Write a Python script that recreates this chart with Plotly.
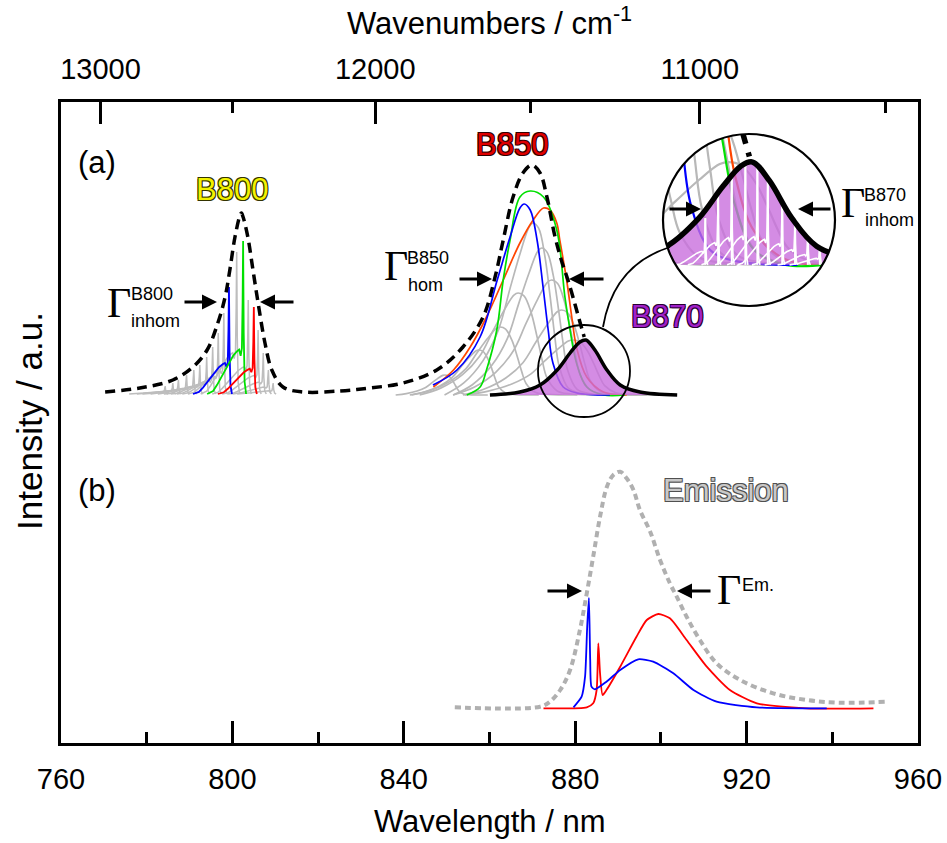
import math
import plotly.graph_objects as go

# ---------------- data (wavelength in nm, intensity in a.u.) ----------------
x_ticks_nm = [760, 800, 840, 880, 920, 960]
wavenumber_major = [13000, 12000, 11000]
wavenumber_minor = [12500, 11500, 10500]

# (a) absorption: dashed envelope B800 + B850
env_a_nm = [770.3, 778.4, 786.1, 790.8, 794.1, 796.6, 798.3, 799.4, 800.6, 801.8, 802.1, 802.5,
            803.6, 804.8, 806.0, 807.6, 809.2, 811.8, 816.5, 825.1, 832.1, 839.8, 847.7, 853.8,
            858.5, 861.3, 863.2, 865.5, 867.8, 869.9, 871.8, 873.4, 875.3, 876.9, 878.3, 880.0,
            881.1, 882.1]
env_a_int = [351, 355, 363, 376, 393, 420, 446, 473, 506, 528, 530, 526,
             506, 473, 440, 400, 373, 356, 351, 352, 355, 360, 373, 396,
             426, 466, 503, 546, 570, 578, 570, 546, 506, 481, 463, 438,
             421, 406]

b800_base = 349
b800_profile_dnm = [-8.4, -7.0, -6.07, -5.13, -4.2, -3.27, -2.33, -1.4, -0.93, -0.58, -0.28, -0.12,
                    0, 0.14, 0.35, 0.7]
b800_profile_rel = [0, 0.02, 0.06, 0.11, 0.16, 0.21, 0.25, 0.28, 0.29, 0.25, 0.3, 0.6,
                    1, 0.4, 0.08, 0]
b800_grey_nm = [784.3, 786.1, 787.4, 789.3, 791.0, 792.4, 794.0, 795.4, 796.7, 798.0, 801.0,
                803.7, 806.0, 807.2, 808.4, 809.5]
b800_grey_h = [8, 11, 14, 19, 24, 29, 37, 47, 61, 81, 142, 94, 64, 41, 24, 11]
b800_col_nm = [799.2, 802.5, 805.0]
b800_col_h = [107, 153, 87]
b800_col_color = ["#0000FF", "#00E000", "#FF0000"]

# B850 sub-bands
b850_base = 348
b850_blue_nm = [846.8, 852.4, 857.8, 861.8, 864.8, 867.1, 868.1, 869.5, 871.1, 872.5, 873.7,
                874.8, 877.2, 880.4, 888.1]
b850_blue_int = [358, 373, 406, 463, 506, 535, 539, 533, 503, 456, 413, 380, 356, 350, 348]
b850_green_nm = [854.7, 857.8, 859.3, 861.7, 863.2, 864.8, 867.1, 869.5, 872.6, 875.7, 877.6,
                 878.8, 880.3, 882.7, 886.6, 891.6]
b850_green_int = [348, 356, 373, 413, 463, 503, 546, 552, 546, 513, 446, 413, 380, 356, 348, 348]
b850_orange_nm = [846.9, 851.6, 855.5, 859.3, 863.2, 867.1, 870.2, 872.6, 874.1, 875.7, 876.4,
                  878.0, 879.2, 880.3, 882.7, 886.6, 892.0]
b850_orange_int = [356, 373, 396, 426, 463, 500, 523, 535, 533, 520, 503, 463, 426, 396, 366,
                   351, 348]
b850_profile_dnm = [-23, -18, -13, -9, -6, -3.3, -1.0, 0, 1.4, 3.0, 4.4, 5.6, 6.7, 9.1, 12.3, 20]
b850_profile_rel = [0, 0.07, 0.2, 0.38, 0.62, 0.83, 0.98, 1, 0.97, 0.81, 0.57, 0.34, 0.17, 0.04,
                    0.01, 0]
b850_grey_nm = [849.6, 857.5, 862.5, 866.7, 870.2, 872.2, 874.5, 876.8, 879.5]
b850_grey_h = [20, 45, 68, 102, 172, 147, 115, 85, 55]
b850_grey_w = [0.5, 0.7, 0.9, 1.0, 0.9, 0.9, 1.0, 1.0, 1.1]

# B870 band
b870_nm = [860.1, 867.1, 871.8, 875.8, 878.8, 881.1, 882.5, 884.6, 887.4, 890.5, 895.1, 903.8]
b870_int = [348, 351, 358, 373, 390, 401, 403, 393, 373, 358, 351, 348]
b870_sub_nm = [876.6, 878.2, 879.9, 881.6, 883.1, 884.4, 886.2, 887.8, 889.4, 890.9]
b870_sub_top = [373, 389, 398, 401, 400, 395, 387, 376, 367, 360]
b870_wing_scale = 0.45

# (b) emission
em_nm = [851.9, 871.8, 874.1, 876.5, 878.8, 881.1, 882.7, 884.2, 885.8, 887.4, 888.9, 890.5,
         892.0, 893.6, 895.1, 897.5, 899.8, 902.1, 903.7, 906.0, 909.1, 913.0, 918.5, 926.2,
         934.0, 941.8, 952.7]
em_int = [35.7, 36.3, 41.3, 53, 73, 113, 149.7, 186.3, 226.3, 256.3, 268, 271.3,
          264.7, 253, 233, 211.3, 183, 159.7, 146.3, 126.3, 103, 79.7, 63, 49.7,
          43, 40.3, 41.3]
em_blue_nm = [879.6, 881.5, 882.3, 882.8, 883.2, 883.5, 883.8, 884.6, 887.3, 890.5, 894.7, 898.2,
              902.9, 907.6, 913.0, 922.4, 938.7]
em_blue_int = [35.7, 46.3, 66.3, 116.3, 145, 83, 56.3, 53.7, 61.3, 73, 83.7, 81.3,
               69.7, 53, 41.3, 35.7, 34.7]
em_red_nm = [872.6, 882.7, 884.2, 885.0, 885.4, 885.8, 886.4, 887.3, 890.5, 894.3, 896.7, 899.4,
             902.1, 906.0, 910.7, 916.1, 922.4, 934.0, 949.6]
em_red_int = [34.7, 35.7, 39.7, 53, 99.7, 69.7, 48, 53, 76.3, 106.3, 123, 129,
              124.7, 103, 76.3, 53, 39.7, 34.7, 34.7]

# ---------------- layout geometry (pixels) ----------------
W, H = 947, 843
L, R, T, B = 61, 918, 102, 743
FONT = "Arial, Liberation Sans, sans-serif"
SERIF = "Times New Roman, Liberation Serif, serif"
SMALL_C = (584, 371, 46)    # magnified region (centre x, y, radius)
BIG_C = (749, 220, 86)      # inset circle


def paper(px, py):
    return (px - L) / (R - L), (B - py) / (B - T)


def nm_of_px(px):
    return 760 + (px - L) * 200 / (R - L)


def int_of_py(py):
    return B - py


fig = go.Figure()


def add(x, y, color, width, axes=("x", "y"), dash=None, shape="spline", smoothing=1.0, **kw):
    fig.add_trace(go.Scatter(x=x, y=y, mode="lines", xaxis=axes[0], yaxis=axes[1],
                             line=dict(color=color, width=width, dash=dash, shape=shape,
                                       smoothing=smoothing),
                             hoverinfo="skip", showlegend=False, **kw))


def bands(pos, heights, base, dnm, rel, widths=None):
    xs, ys = [], []
    for i, (p, h) in enumerate(zip(pos, heights)):
        w = widths[i] if widths else 1.0
        xs += [p + d * w for d in dnm] + [None]
        ys += [base + h * r for r in rel] + [None]
    return xs, ys


def draw_b850(axes, wgrey, wcol):
    gx, gy = bands(b850_grey_nm, b850_grey_h, b850_base, b850_profile_dnm, b850_profile_rel,
                   b850_grey_w)
    add(gx, gy, "#B8B8B8", wgrey, axes)
    add(b850_orange_nm, b850_orange_int, "#FF4500", wcol, axes)
    add(b850_green_nm, b850_green_int, "#00E000", wcol, axes)
    add(b850_blue_nm, b850_blue_int, "#0000FF", wcol, axes)


def draw_b870(axes, wline, inset=False):
    fig.add_trace(go.Scatter(x=b870_nm + b870_nm[::-1],
                             y=b870_int + [b850_base] * len(b870_nm),
                             xaxis=axes[0], yaxis=axes[1], mode="lines", fill="toself",
                             fillcolor="rgba(201,111,221,0.8)", line=dict(width=0, shape="spline"),
                             hoverinfo="skip", showlegend=False))
    if inset:
        hx = [h - b850_base for h in b870_sub_top]
        wx, wy = bands(b870_sub_nm, hx, b850_base,
                       [d * b870_wing_scale for d in b800_profile_dnm], b800_profile_rel)
        add(wx, wy, "white", 1.6, axes, shape="linear")
        sx, sy = [], []
        for p, t in zip(b870_sub_nm, b870_sub_top):
            sx += [p, p, None]
            sy += [b850_base, t, None]
        add(sx, sy, "white", 2.0, axes, shape="linear")
    add(b870_nm, b870_int, "black", wline, axes)


# ---- main panel (a) ----
gx, gy = bands(b800_grey_nm, b800_grey_h, b800_base, b800_profile_dnm, b800_profile_rel)
add(gx, gy, "#BDBDBD", 1.5, shape="linear")
for p, h, c in zip(b800_col_nm, b800_col_h, b800_col_color):
    bx, by = bands([p], [h], b800_base, b800_profile_dnm, b800_profile_rel)
    add(bx, by, c, 1.8, shape="linear")
draw_b850(("x", "y"), 1.7, 1.7)
draw_b870(("x", "y"), 3.5)
add(env_a_nm, env_a_int, "black", 3.5, dash="10px,6px")

# ---- panel (b) ----
add(em_nm, em_int, "#B0B0B0", 4, dash="6px,4px")
add(em_red_nm, em_red_int, "#FF0000", 1.8, smoothing=0.6)
add(em_blue_nm, em_blue_int, "#0000FF", 1.8, smoothing=0.6)

# ---- inset (magnified B870 region) ----
draw_b850(("x3", "y3"), 2.2, 2.2)
draw_b870(("x3", "y3"), 5.5, inset=True)
add(env_a_nm, env_a_int, "black", 5.5, axes=("x3", "y3"), dash="14px,9px")

# invisible trace to activate the top (wavenumber) axis
fig.add_trace(go.Scatter(x=[800], y=[0], xaxis="x2", yaxis="y", mode="markers",
                         marker=dict(opacity=0), hoverinfo="skip", showlegend=False))

scx, scy, sr = SMALL_C
bcx, bcy, br = BIG_C
ix0, ix1 = nm_of_px(scx - sr), nm_of_px(scx + sr)
iy0, iy1 = int_of_py(scy + sr), int_of_py(scy - sr)
dx0, dy0 = paper(bcx - br, bcy + br)
dx1, dy1 = paper(bcx + br, bcy - br)

axis_common = dict(showline=True, linecolor="black", linewidth=3, showgrid=False, zeroline=False,
                   tickcolor="black", tickwidth=2.5, automargin=False)
fig.update_layout(
    width=W, height=H, margin=dict(l=L, r=W - R, t=T, b=H - B, pad=0, autoexpand=False),
    paper_bgcolor="white", plot_bgcolor="white",
    font=dict(family=FONT, size=29, color="black"),
    xaxis=dict(range=[760, 960], tickmode="array", tickvals=x_ticks_nm,
               ticktext=[str(v) for v in x_ticks_nm], ticks="inside", ticklen=22,
               minor=dict(ticks="inside", tickmode="linear", tick0=760, dtick=20, ticklen=11,
                          tickwidth=2.5, tickcolor="black", showgrid=False),
               tickfont=dict(size=29), ticklabelstandoff=8, **axis_common),
    xaxis2=dict(range=[760, 960], overlaying="x", side="top", anchor="y", tickmode="array",
                tickvals=[1e7 / w for w in wavenumber_major],
                ticktext=[str(w) for w in wavenumber_major], ticks="inside", ticklen=22,
                minor=dict(ticks="inside", tickmode="array",
                           tickvals=[1e7 / w for w in wavenumber_minor], ticklen=11,
                           tickwidth=2.5, tickcolor="black", showgrid=False),
                tickfont=dict(size=29), ticklabelstandoff=8, **axis_common),
    yaxis=dict(range=[0, B - T], showticklabels=False, ticks="", mirror=True, automargin=False,
               showline=True, linecolor="black", linewidth=3, showgrid=False, zeroline=False),
    xaxis3=dict(domain=[dx0, dx1], range=[ix0, ix1], visible=False, anchor="y3"),
    yaxis3=dict(domain=[dy0, dy1], range=[iy0, iy1], visible=False, anchor="x3"),
)


def P(px, py):
    x, y = paper(px, py)
    return f"{x:.5f},{y:.5f}"


# white mask around the inset circle
pts = [(bcx + br * math.cos(2 * math.pi * i / 160), bcy + br * math.sin(2 * math.pi * i / 160))
       for i in range(160)]
m = 4
mask = (f"M{P(bcx - br - m, bcy - br - m)} L{P(bcx + br + m, bcy - br - m)} "
        f"L{P(bcx + br + m, bcy + br + m)} L{P(bcx - br - m, bcy + br + m)} Z "
        "M" + " L".join(P(*p) for p in pts) + " Z")
shapes = [dict(type="path", path=mask, xref="paper", yref="paper", fillcolor="white",
               line=dict(width=0), layer="above")]
for (cx, cy, r), lw in ((SMALL_C, 1.8), (BIG_C, 2.2)):
    x0, y0 = paper(cx - r, cy + r)
    x1, y1 = paper(cx + r, cy - r)
    shapes.append(dict(type="circle", xref="paper", yref="paper", x0=x0, x1=x1, y0=y0, y1=y1,
                       line=dict(color="black", width=lw), layer="above"))
shapes.append(dict(type="path", xref="paper", yref="paper", layer="above",
                   path=f"M{P(603, 327)} Q{P(613.5, 265)} {P(670, 247)}",
                   line=dict(color="black", width=1.8)))
fig.update_layout(shapes=shapes)


def ann(px, py, text, size, color="black", family=FONT, shadow=None, angle=0):
    x, y = paper(px, py)
    font = dict(size=size, color=color, family=family)
    if shadow:
        font["shadow"] = shadow
    fig.add_annotation(x=x, y=y, xref="paper", yref="paper", text=text, showarrow=False,
                       font=font, textangle=angle, xanchor="center", yanchor="middle")


def outline(c):
    return f"-1px -1px 0 {c}, 1px -1px 0 {c}, -1px 1px 0 {c}, 1px 1px 0 {c}"


def arrow(tail, tip):
    x, y = paper(*tip)
    fig.add_annotation(x=x, y=y, xref="paper", yref="paper", ax=tail[0] - tip[0],
                       ay=tail[1] - tip[1], axref="pixel", ayref="pixel", text="",
                       showarrow=True, arrowhead=2, arrowsize=1, arrowwidth=3,
                       arrowcolor="black", standoff=0, startstandoff=0)


# axis titles
ann(490, 21, "Wavenumbers / cm<sup>-1</sup>", 31)
ann(490, 821, "Wavelength / nm", 31)
ann(29, 421, "Intensity / a.u.", 35, angle=-90)

# panel labels
ann(97, 162, "(a)", 31)
ann(97, 490, "(b)", 31)
ann(232, 190, "B800", 31, color="#F2F200", shadow=outline("#333300"))
ann(512, 144, "B850", 31, color="#E00000", shadow=outline("#330000"))
ann(667, 316, "B870", 31, color="#A020C8", shadow=outline("#2A0033"))
ann(726, 490, "Emission", 31, color="#C8C8C8", shadow=outline("#505050"))

# widths
ann(119, 303, "Γ", 42, family=SERIF)
ann(151.5, 294, "B800", 18)
ann(155.5, 320.5, "inhom", 18)
arrow((183, 302), (217, 302))
arrow((295, 302), (260, 302))

ann(396, 266, "Γ", 42, family=SERIF)
ann(427.5, 257.5, "B850", 18)
ann(425, 284.5, "hom", 18)
arrow((458, 279), (492, 279))
arrow((605, 279), (569, 279))

ann(853, 203, "Γ", 42, family=SERIF)
ann(885, 195, "B870", 18)
ann(889, 219.5, "inhom", 18)
arrow((668, 209), (701, 209))
arrow((832, 209), (798, 209))

ann(729, 590, "Γ", 42, family=SERIF)
ann(757.5, 585, "Em.", 18)
arrow((546, 591), (582, 591))
arrow((712, 591), (677, 591))

fig.write_html("out.html")
